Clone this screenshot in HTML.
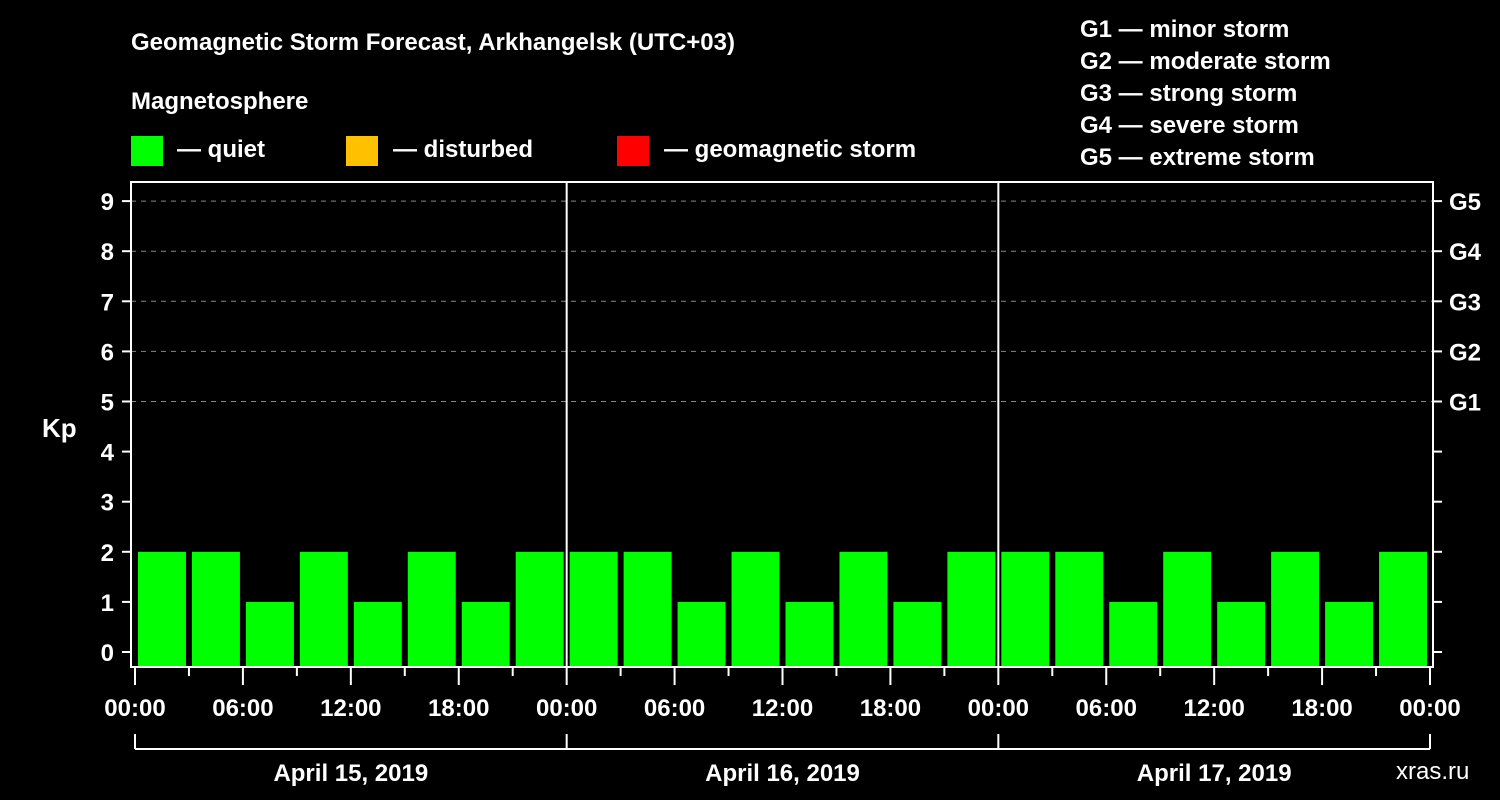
<!DOCTYPE html>
<html><head><meta charset="utf-8"><style>
html,body{margin:0;padding:0;background:#000;width:1500px;height:800px;overflow:hidden}
svg text{font-family:"Liberation Sans",sans-serif;font-weight:bold;fill:#fff}
</style></head><body>
<svg id="chart" width="1500" height="800" xmlns="http://www.w3.org/2000/svg">
<text x="131" y="50" font-size="24">Geomagnetic Storm Forecast, Arkhangelsk (UTC+03)</text>
<text x="131" y="109" font-size="24">Magnetosphere</text>
<rect x="131" y="136" width="32" height="30" fill="#00ff00"/>
<text x="177" y="157" font-size="24">— quiet</text>
<rect x="346" y="136" width="32" height="30" fill="#ffc000"/>
<text x="393" y="157" font-size="24">— disturbed</text>
<rect x="617" y="136" width="32" height="30" fill="#ff0000"/>
<text x="664" y="157" font-size="24">— geomagnetic storm</text>
<g font-size="24">
<text x="1080" y="37">G1 — minor storm</text>
<text x="1080" y="69">G2 — moderate storm</text>
<text x="1080" y="101">G3 — strong storm</text>
<text x="1080" y="133">G4 — severe storm</text>
<text x="1080" y="165">G5 — extreme storm</text>
</g>
<text x="42" y="437" font-size="26">Kp</text>
<text x="1396" y="779" font-size="24" fill="#fff" style="font-weight:normal">xras.ru</text>
<g id="grid"></g><g id="bars"></g><g id="axes"></g>
</svg>
<script>
const kpValues=[2,2,1,2,1,2,1,2, 2,2,1,2,1,2,1,2, 2,2,1,2,1,2,1,2];
const dayLabels=["April 15, 2019","April 16, 2019","April 17, 2019"];
const yTicks=[0,1,2,3,4,5,6,7,8,9];
const gLabels=["G1","G2","G3","G4","G5"];
const gLevels=[5,6,7,8,9];
const hourLabels=["00:00","06:00","12:00","18:00"];

const NS="http://www.w3.org/2000/svg";
const L=131,R=1433,T=182,B=667,X0=135,X1=1430;
const y=v=>652-v*50.1;
const x=h=>X0+(X1-X0)*h/72;
function mk(tag,attrs,parent,txt){const e=document.createElementNS(NS,tag);for(const k in attrs)e.setAttribute(k,attrs[k]);if(txt!==undefined)e.textContent=txt;parent.appendChild(e);return e;}
const grid=document.getElementById('grid'),bars=document.getElementById('bars'),axes=document.getElementById('axes');
gLevels.forEach(v=>{
 const l=mk('line',{x1:L,x2:R,y1:y(v),y2:y(v),stroke:'#888','stroke-width':1,'stroke-dasharray':'5,5'},grid);
 
 
});
kpValues.forEach((v,i)=>{
 const c=v>=5?'#ff0000':(v>=4?'#ffc000':'#00ff00');
 const r=mk('rect',{x:x(i*3)+3,y:y(v),width:x(3)-x(0)-6,height:B-y(v),fill:c},bars);
 
 
});
const frame=mk('rect',{x:L,y:T,width:R-L,height:B-T,fill:'none',stroke:'#fff','stroke-width':2},axes);


[24,48].forEach(h=>{
 const l=mk('line',{x1:x(h),x2:x(h),y1:T,y2:B,stroke:'#fff','stroke-width':2},axes);
 
 
});
yTicks.forEach(v=>{
 mk('line',{x1:122,x2:L,y1:y(v),y2:y(v),stroke:'#fff','stroke-width':2},axes);
 mk('line',{x1:R,x2:1442,y1:y(v),y2:y(v),stroke:'#fff','stroke-width':2},axes);
 const t=mk('text',{x:114,y:y(v)+9,'font-size':24,'text-anchor':'end'},axes,String(v));
 
 
});
gLevels.forEach((v,i)=>{
 const t=mk('text',{x:1449,y:y(v)+9,'font-size':24},axes,gLabels[i]);
 
 
});
for(let h=0;h<=72;h+=3){
 const major=h%6===0;
 mk('line',{x1:x(h),x2:x(h),y1:B,y2:major?B+18:B+9,stroke:'#fff','stroke-width':2},axes);
 if(major){
  const t=mk('text',{x:x(h),y:716,'font-size':24,'text-anchor':'middle'},axes,hourLabels[(h/6)%4]);
  
  
 }
}
mk('line',{x1:X0,x2:X1,y1:749,y2:749,stroke:'#fff','stroke-width':2},axes);
[0,24,48,72].forEach(h=>mk('line',{x1:x(h),x2:x(h),y1:734,y2:749,stroke:'#fff','stroke-width':2},axes));
dayLabels.forEach((d,i)=>{
 const t=mk('text',{x:x(i*24+12),y:781,'font-size':24,'text-anchor':'middle'},axes,d);
 
 
});
</script>
</body></html>
